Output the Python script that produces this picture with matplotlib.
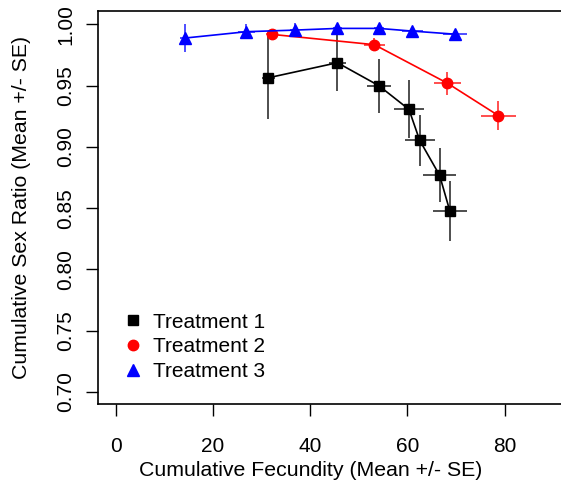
import matplotlib
matplotlib.use("Agg")
import matplotlib.pyplot as plt
from matplotlib.lines import Line2D
import numpy as np

plt.rcParams["font.family"] = ["Liberation Sans", "DejaVu Sans"]

# Treatment 1 (black squares)
t1_x = [31.4, 45.6, 54.1, 60.3, 62.5, 66.6, 68.7]
t1_xse = [1.3, 1.8, 2.5, 3.0, 3.1, 3.4, 3.5]
t1_y = [0.9564, 0.9687, 0.950, 0.9306, 0.9054, 0.8768, 0.8477]
t1_yse = [0.034, 0.023, 0.022, 0.0236, 0.021, 0.022, 0.0245]

# Treatment 2 (red circles)
t2_x = [32.2, 53.2, 68.2, 78.7]
t2_xse = [1.2, 2.2, 2.7, 3.5]
t2_y = [0.9918, 0.9834, 0.952, 0.9255]
t2_yse = [0.003, 0.0055, 0.0095, 0.012]

# Treatment 3 (blue triangles)
t3_x = [14.2, 26.9, 36.8, 45.6, 54.1, 61.0, 69.7]
t3_xse = [1.0, 1.7, 1.0, 1.0, 1.0, 2.2, 2.5]
t3_y = [0.9888, 0.994, 0.9953, 0.9967, 0.9967, 0.9945, 0.992]
t3_yse = [0.0114, 0.006, 0.0055, 0.003, 0.003, 0.002, 0.002]

labels = ["Treatment 1", "Treatment 2", "Treatment 3"]

fig = plt.figure(figsize=(5.61, 4.95), dpi=100)
ax = fig.add_axes([98 / 561, 91 / 495, 473 / 561, 393 / 495])

series = [
    (t1_x, t1_xse, t1_y, t1_yse, "black", "s", 7.2),
    (t2_x, t2_xse, t2_y, t2_yse, "red", "o", 7.5),
    (t3_x, t3_xse, t3_y, t3_yse, "blue", "^", 8.5),
]
handles = []
for (x, xse, y, yse, col, mk, ms), lab in zip(series, labels):
    ax.errorbar(x, y, xerr=xse, yerr=yse, fmt="none", ecolor=col,
                elinewidth=1.3, alpha=0.75, capsize=0)
    ax.plot(x, y, color=col, lw=1.2, marker=mk, ms=ms, mec=col, mfc=col)
    handles.append(Line2D([], [], ls="none", marker=mk, color=col, ms=ms))

ax.set_xlim(-3.6, 93.6)
ax.set_ylim(0.6902, 1.0109)
ax.set_xticks([0, 20, 40, 60, 80])
ax.set_yticks(np.arange(0.70, 1.001, 0.05))
ax.set_yticklabels(["%.2f" % v for v in np.arange(0.70, 1.001, 0.05)],
                   rotation=90, va="center")
ax.tick_params(direction="out", length=8.5, width=1, labelsize=15)
ax.tick_params(axis="x", pad=15)
ax.tick_params(axis="y", pad=8)
for s in ax.spines.values():
    s.set_linewidth(1.2)

ax.set_xlabel("Cumulative Fecundity (Mean +/- SE)", fontsize=15.3, labelpad=4)
ax.set_ylabel("Cumulative Sex Ratio (Mean +/- SE)", fontsize=15.3, labelpad=18)
# the reference centres the x label left of the (cropped) plot centre
ax.xaxis.label.set_x((311 - 98) / 473)

ax.legend(handles, labels, loc="center left", frameon=False,
          bbox_to_anchor=(123 / 561, 1 - 347 / 495),
          bbox_transform=fig.transFigure, fontsize=15,
          handlelength=1.0, handletextpad=0.45, labelspacing=0.28,
          borderpad=0, borderaxespad=0)

fig.savefig("out.png", dpi=100)
